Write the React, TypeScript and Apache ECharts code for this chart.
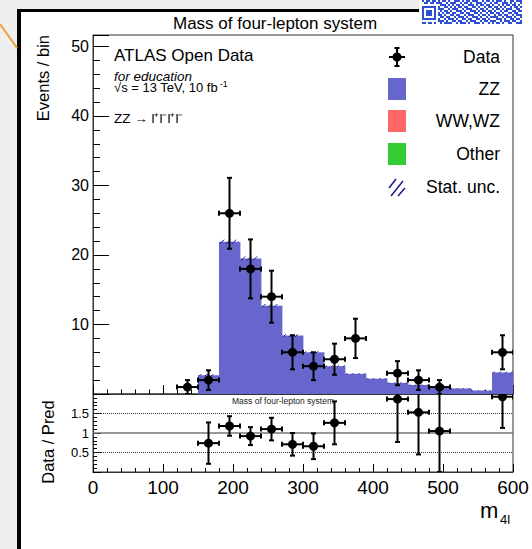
import React, { useEffect, useRef } from 'react';
import * as echarts from 'echarts';

// ---------- data ----------
const binEdges = [0, 30, 60, 90, 120, 150, 180, 210, 240, 270, 300, 330, 360, 390, 420, 450, 480, 510, 540, 570, 600];
const zzYield = [0, 0, 0, 0, 0, 2.7, 21.9, 19.5, 12.7, 8.4, 6.0, 4.0, 2.9, 2.2, 1.6, 1.3, 0.95, 0.8, 0.5, 3.1];
const wwwzYield = [0, 0, 0, 0, 0, 0, 0, 0, 0, 0, 0, 0, 0, 0, 0, 0, 0, 0, 0, 0];
const otherYield = [0, 0, 0, 0, 0, 0, 0, 0, 0, 0, 0, 0, 0, 0, 0, 0, 0, 0, 0, 0];
const statUnc = [0, 0, 0, 0, 0, 0.15, 0.3, 0.3, 0.25, 0.2, 0.15, 0.12, 0.1, 0.1, 0.08, 0.08, 0.07, 0.06, 0.05, 0.12];

const dataX = [135, 165, 195, 225, 255, 285, 315, 345, 375, 435, 465, 495, 585];
const dataY = [1, 2, 26, 18, 14, 6, 4, 5, 8, 3, 2, 1, 6];
const dataErr = [1, 1.41, 5.1, 4.24, 3.74, 2.45, 2, 2.24, 2.83, 1.73, 1.41, 1, 2.45];
const binHalfWidth = 15;

const ratioX = [165, 195, 225, 255, 285, 315, 345, 435, 465, 495, 585];
const ratioY = [0.74, 1.18, 0.92, 1.1, 0.71, 0.66, 1.26, 1.87, 1.53, 1.05, 1.93];
const ratioErr = [0.53, 0.25, 0.23, 0.29, 0.29, 0.33, 0.55, 1.1, 1.08, 1.05, 0.8];

const ratioDotted = [0.5, 1.5];
const ratioSolid = [1];

const xMin = 0;
const xMax = 600;
const mainYMax = 51.65;
const ratioYMax = 2;

const legendLabels = ['Data', 'ZZ', 'WW,WZ', 'Other', 'Stat. unc.'];
const colZZ = '#6666cc';
const colWW = '#ff6666';
const colOther = '#33cc33';
const colHatch = '#1a1a80';

const FONT = '"Liberation Sans", Arial, Helvetica, sans-serif';

// decorative QR fragment (top-right of the screenshot)
const qrRight = [
  '101101 001110 101101 110010 110101 110100 110111',
  '110010 111001 011010 011101 001011 001110 101001',
  '011101 010110 100111 010110 110100 101011 011010',
  '100110 101011 011001 101001 011011 010100 101101',
  '111001 011100 101110 010110 100101 101011 100110',
  '010110 100111 010011 101011 011010 010110 011011',
  '101011 011001 101100 110100 101101 101001 101100',
  '110100 110110 010111 001011 010010 110110 010111',
  '011011 001011 101001 110100 101111 001011 101001',
  '100101 110100 110110 011011 010001 110100 110110',
  '111010 011011 001011 100101 101110 010111 011001',
  '010111 100101 110100 111010 010101 101001 100111',
];
const qrLeft = ['10110110', '01101101', '00000000', '', '', '', '', '', '', '', '00000000', '11011010'];

function buildQR() {
  const children: any[] = [];
  const ox = 422;
  const m = 2;
  children.push({ type: 'rect', shape: { x: 419, y: 0, width: 113, height: 25 }, style: { fill: '#ffffff' } });
  for (let r = 0; r < qrRight.length; r++) {
    const row = (qrLeft[r] ? qrLeft[r] : '00000000') + qrRight[r].replace(/ /g, '');
    let c = 0;
    while (c < row.length) {
      if (row[c] === '1' && !(r >= 3 && r <= 10 && c < 8)) {
        let e = c;
        while (e < row.length && row[e] === '1') e++;
        children.push({ type: 'rect', shape: { x: ox + c * m, y: r * m, width: (e - c) * m, height: m }, style: { fill: '#2f4fd1' } });
        c = e;
      } else c++;
    }
  }
  children.push({ type: 'rect', shape: { x: ox, y: 6, width: 14, height: 14 }, style: { fill: '#2f4fd1' } });
  children.push({ type: 'rect', shape: { x: ox + 2, y: 8, width: 10, height: 10 }, style: { fill: '#ffffff' } });
  children.push({ type: 'rect', shape: { x: ox + 4, y: 10, width: 6, height: 6 }, style: { fill: '#2f4fd1' } });
  return { type: 'group', children };
}

function histRender(color: string) {
  return (params: any, api: any) => {
    const x0 = api.value(0);
    const x1 = api.value(1);
    const b = api.value(2);
    const t = api.value(3);
    if (!(t > b)) return null;
    const p0 = api.coord([x0, t]);
    const p1 = api.coord([x1, b]);
    return {
      type: 'rect',
      shape: { x: p0[0], y: p0[1], width: p1[0] - p0[0] + 0.4, height: p1[1] - p0[1] },
      style: { fill: color },
    };
  };
}

function hatchRender(params: any, api: any) {
  const x0 = api.value(0);
  const x1 = api.value(1);
  const t = api.value(2);
  const e = api.value(3);
  if (!(e > 0) || !(t > 0)) return null;
  const pt = api.coord([x0, t + e]);
  const pb = api.coord([x1, t - e]);
  const h = pb[1] - pt[1];
  const children: any[] = [];
  for (let xs = pt[0] + 1; xs + h <= pb[0]; xs += 6) {
    children.push({
      type: 'line',
      shape: { x1: xs, y1: pb[1], x2: xs + h, y2: pt[1] },
      style: { stroke: colHatch, lineWidth: 1 },
    });
  }
  return { type: 'group', children };
}

function pointRender(params: any, api: any) {
  const x = api.value(0);
  const y = api.value(1);
  const e = api.value(2);
  const hw = api.value(3);
  const c = api.coord([x, y]);
  const t = api.coord([x, y + e]);
  const b = api.coord([x, y - e]);
  const l = api.coord([x - hw, y]);
  const r = api.coord([x + hw, y]);
  const cap = 2.5;
  const ls = { stroke: '#000', lineWidth: 2 };
  return {
    type: 'group',
    children: [
      { type: 'line', shape: { x1: c[0], y1: t[1], x2: c[0], y2: b[1] }, style: ls },
      { type: 'line', shape: { x1: c[0] - cap, y1: t[1], x2: c[0] + cap, y2: t[1] }, style: ls },
      { type: 'line', shape: { x1: c[0] - cap, y1: b[1], x2: c[0] + cap, y2: b[1] }, style: ls },
      { type: 'line', shape: { x1: l[0], y1: c[1], x2: r[0], y2: c[1] }, style: ls },
      { type: 'line', shape: { x1: l[0], y1: c[1] - cap, x2: l[0], y2: c[1] + cap }, style: ls },
      { type: 'line', shape: { x1: r[0], y1: c[1] - cap, x2: r[0], y2: c[1] + cap }, style: ls },
      { type: 'circle', shape: { cx: c[0], cy: c[1], r: 4.5 }, style: { fill: '#000' } },
    ],
  };
}

function txt(text: string, x: number, y: number, size: number, align: string, extra: any = {}, rotation = 0) {
  return {
    type: 'text',
    x,
    y,
    z: 100,
    rotation,
    style: {
      text,
      fontSize: size,
      fontFamily: FONT,
      fill: '#000',
      textAlign: align,
      textVerticalAlign: 'middle',
      ...extra,
    },
  };
}

export default function App() {
  const ref = useRef<HTMLDivElement>(null);

  useEffect(() => {
    if (!ref.current) return;
    const chart = echarts.init(ref.current, null, { renderer: 'svg' });

    const zzBase = zzYield.map(() => 0);
    const wwBase = zzYield.map((v, i) => zzBase[i] + v);
    const otherBase = wwwzYield.map((v, i) => wwBase[i] + v);
    const total = otherYield.map((v, i) => otherBase[i] + v);

    const hist = (vals: number[], bases: number[]) =>
      vals.map((v, i) => [binEdges[i], binEdges[i + 1], bases[i], bases[i] + v]);

    const mainPts = dataX.map((x, i) => [x, dataY[i], dataErr[i], binHalfWidth]);
    const ratioPts = ratioX.map((x, i) => [x, ratioY[i], ratioErr[i], binHalfWidth]);
    const hatchData = total.map((v, i) => [binEdges[i], binEdges[i + 1], v, statUnc[i]]);

    const axisCol = '#333';
    const gridL = 93;
    const gridW = 420;

    const refLine = (v: number, dotted: boolean) => ({
      type: 'line',
      xAxisIndex: 1,
      yAxisIndex: 2,
      data: [[xMin, v], [xMax, v]],
      symbol: 'none',
      silent: true,
      z: 1,
      lineStyle: dotted ? { color: '#333', width: 1, type: 'dotted' } : { color: '#777', width: 1.6, type: 'solid' },
    });

    const legendX = 397;
    const legendY = [57, 89, 121, 154, 187];
    const graphic: any[] = [
      { type: 'line', shape: { x1: 0, y1: 24, x2: 17, y2: 48 }, style: { stroke: '#f0a040', lineWidth: 2 } },
      buildQR(),
      txt('Mass of four-lepton system', 275, 23, 17, 'center'),
      txt('Events / bin', 43, 35, 16.5, 'right', {}, Math.PI / 2),
      txt('Data / Pred', 48, 442, 16.5, 'center', {}, Math.PI / 2),
      txt('ATLAS Open Data', 114, 55, 17, 'left'),
      txt('for education', 114, 76, 13.5, 'left', { fontStyle: 'italic' }),
      {
        type: 'text',
        x: 114,
        y: 87,
        z: 100,
        style: {
          text: '√s = 13 TeV, 10 fb{sup|-1}',
          fontSize: 13,
          fontFamily: FONT,
          fill: '#000',
          textAlign: 'left',
          textVerticalAlign: 'middle',
          rich: { sup: { fontSize: 9, fontFamily: FONT, verticalAlign: 'top', padding: [0, 0, 6, 2] } },
        },
      },
      txt('ZZ → l⁺l⁻l⁺l⁻', 114, 118, 13.5, 'left'),
      txt('Mass of four-lepton system', 232, 400.5, 8.5, 'left', { fill: '#222' }),
      txt('m', 480, 510, 22, 'left'),
      txt('4l', 500, 519.5, 13, 'left'),
      // legend
      txt(legendLabels[0], 500, legendY[0], 17.5, 'right'),
      txt(legendLabels[1], 500, legendY[1], 17.5, 'right'),
      txt(legendLabels[2], 500, legendY[2], 17.5, 'right'),
      txt(legendLabels[3], 500, legendY[3], 17.5, 'right'),
      txt(legendLabels[4], 500, legendY[4], 17.5, 'right'),
      {
        type: 'group',
        z: 100,
        children: [
          { type: 'line', shape: { x1: legendX, y1: legendY[0] - 9, x2: legendX, y2: legendY[0] + 9 }, style: { stroke: '#000', lineWidth: 2 } },
          { type: 'line', shape: { x1: legendX - 2.5, y1: legendY[0] - 9, x2: legendX + 2.5, y2: legendY[0] - 9 }, style: { stroke: '#000', lineWidth: 2 } },
          { type: 'line', shape: { x1: legendX - 2.5, y1: legendY[0] + 9, x2: legendX + 2.5, y2: legendY[0] + 9 }, style: { stroke: '#000', lineWidth: 2 } },
          { type: 'line', shape: { x1: legendX - 8, y1: legendY[0], x2: legendX + 8, y2: legendY[0] }, style: { stroke: '#000', lineWidth: 2 } },
          { type: 'circle', shape: { cx: legendX, cy: legendY[0], r: 4.5 }, style: { fill: '#000' } },
          { type: 'rect', shape: { x: 388, y: legendY[1] - 11, width: 18, height: 22 }, style: { fill: colZZ } },
          { type: 'rect', shape: { x: 388, y: legendY[2] - 11, width: 18, height: 22 }, style: { fill: colWW } },
          { type: 'rect', shape: { x: 388, y: legendY[3] - 11, width: 18, height: 22 }, style: { fill: colOther } },
          { type: 'line', shape: { x1: 389, y1: legendY[4] + 1, x2: 396, y2: legendY[4] - 8 }, style: { stroke: colHatch, lineWidth: 1.5 } },
          { type: 'line', shape: { x1: 391, y1: legendY[4] + 9, x2: 403, y2: legendY[4] - 6 }, style: { stroke: colHatch, lineWidth: 1.5 } },
          { type: 'line', shape: { x1: 398, y1: legendY[4] + 9, x2: 405, y2: legendY[4] + 1 }, style: { stroke: colHatch, lineWidth: 1.5 } },
        ],
      },
    ];

    const option: any = {
      animation: false,
      backgroundColor: 'transparent',
      grid: [
        { left: gridL, top: 35, width: gridW, height: 359, show: true, borderColor: axisCol, borderWidth: 1, backgroundColor: 'transparent' },
        { left: gridL, top: 394, width: gridW, height: 78, show: true, borderColor: axisCol, borderWidth: 1, backgroundColor: 'transparent' },
      ],
      xAxis: [
        {
          gridIndex: 0, type: 'value', min: xMin, max: xMax, interval: 100,
          axisLine: { show: true, lineStyle: { color: axisCol } },
          axisLabel: { show: false },
          axisTick: { show: true, inside: true, length: 9, lineStyle: { color: '#000' } },
          minorTick: { show: true, splitNumber: 5, length: 4.5, lineStyle: { color: '#000' } },
          splitLine: { show: false },
        },
        {
          gridIndex: 1, type: 'value', min: xMin, max: xMax, interval: 100,
          axisLine: { show: true, lineStyle: { color: axisCol } },
          axisLabel: { show: true, fontSize: 19, fontFamily: FONT, color: '#000', margin: 6 },
          axisTick: { show: true, inside: true, length: 8, lineStyle: { color: '#000' } },
          minorTick: { show: true, splitNumber: 5, length: 4, lineStyle: { color: '#000' } },
          splitLine: { show: false },
        },
      ],
      yAxis: [
        {
          gridIndex: 0, type: 'value', position: 'left', min: 0, max: mainYMax, interval: 10,
          axisLine: { show: true, lineStyle: { color: axisCol } },
          axisLabel: {
            show: true, fontSize: 16, fontFamily: FONT, color: '#000', margin: 4,
            formatter: (v: number) => (v > 0 && Math.abs(v % 10) < 1e-6 ? String(v) : ''),
          },
          axisTick: { show: true, inside: true, length: 16, lineStyle: { color: '#000' } },
          splitLine: { show: false },
        },
        {
          gridIndex: 0, type: 'value', position: 'left', offset: 0, min: 0, max: mainYMax, interval: 2,
          axisLine: { show: false },
          axisLabel: { show: false },
          axisTick: { show: true, inside: true, length: 7, lineStyle: { color: '#000' } },
          splitLine: { show: false },
        },
        {
          gridIndex: 1, type: 'value', position: 'left', min: 0, max: ratioYMax, interval: 0.5,
          axisLine: { show: true, lineStyle: { color: axisCol } },
          axisLabel: {
            show: true, fontSize: 13, fontFamily: FONT, color: '#000', margin: 4,
            formatter: (v: number) => (v > 0.01 && v < 1.99 ? String(v) : ''),
          },
          axisTick: { show: true, inside: true, length: 8, lineStyle: { color: '#000' } },
          minorTick: { show: true, splitNumber: 5, length: 4, lineStyle: { color: '#000' } },
          splitLine: { show: false },
        },
      ],
      graphic,
      series: [
        { type: 'custom', name: 'ZZ', xAxisIndex: 0, yAxisIndex: 0, data: hist(zzYield, zzBase), renderItem: histRender(colZZ), encode: { x: [0, 1], y: [2, 3] }, silent: true, z: 2 },
        { type: 'custom', name: 'WW,WZ', xAxisIndex: 0, yAxisIndex: 0, data: hist(wwwzYield, wwBase), renderItem: histRender(colWW), encode: { x: [0, 1], y: [2, 3] }, silent: true, z: 2 },
        { type: 'custom', name: 'Other', xAxisIndex: 0, yAxisIndex: 0, data: hist(otherYield, otherBase), renderItem: histRender(colOther), encode: { x: [0, 1], y: [2, 3] }, silent: true, z: 2 },
        { type: 'custom', name: 'Stat. unc.', xAxisIndex: 0, yAxisIndex: 0, data: hatchData, renderItem: hatchRender, encode: { x: [0, 1], y: 2 }, silent: true, z: 3 },
        { type: 'custom', name: 'Data', xAxisIndex: 0, yAxisIndex: 0, data: mainPts, renderItem: pointRender, encode: { x: 0, y: 1 }, silent: true, z: 5, clip: true },
        ...ratioDotted.map((v) => refLine(v, true)),
        ...ratioSolid.map((v) => refLine(v, false)),
        { type: 'custom', name: 'Ratio', xAxisIndex: 1, yAxisIndex: 2, data: ratioPts, renderItem: pointRender, encode: { x: 0, y: 1 }, silent: true, z: 5, clip: true },
      ],
    };

    chart.setOption(option);
    return () => chart.dispose();
  }, []);

  return (
    <div style={{ position: 'fixed', left: 0, top: 0, width: 532, height: 549, background: '#efefef', overflow: 'hidden' }}>
      <div style={{ position: 'absolute', left: 21, top: 12, right: 0, bottom: 0, background: '#ffffff' }} />
      <div style={{ position: 'absolute', left: 17, top: 9, width: 4, height: 540, background: '#000' }} />
      <div style={{ position: 'absolute', left: 17, top: 9, width: 403, height: 3, background: '#000' }} />
      <div ref={ref} style={{ position: 'absolute', left: 0, top: 0, width: 532, height: 549 }} />
    </div>
  );
}
